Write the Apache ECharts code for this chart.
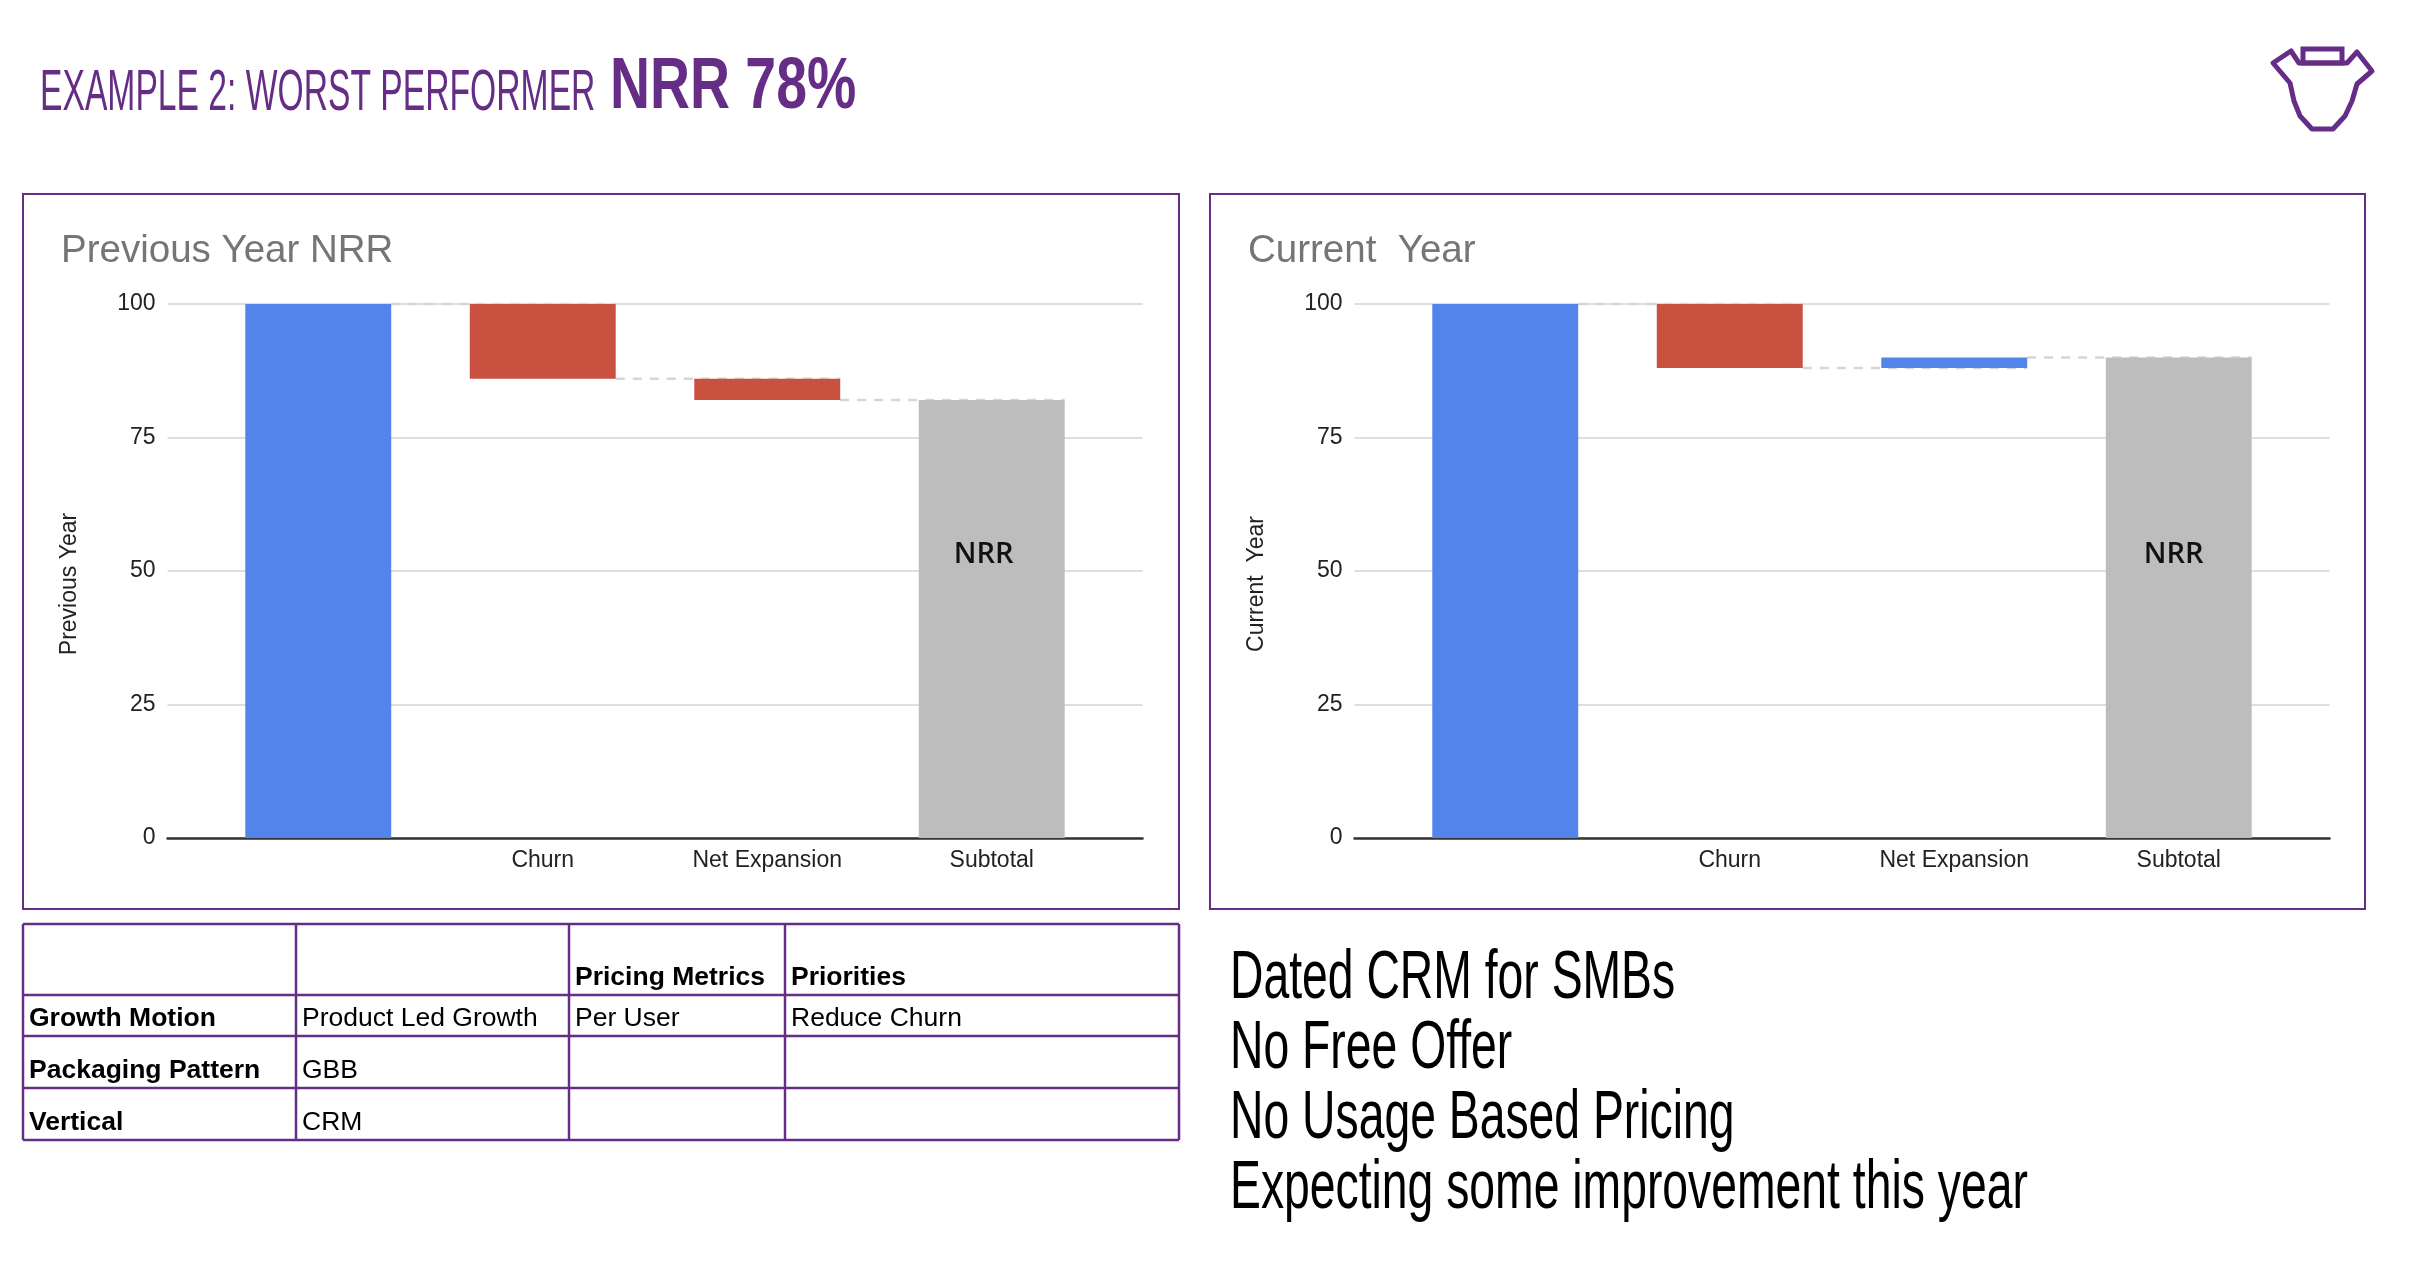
<!DOCTYPE html>
<html>
<head>
<meta charset="utf-8">
<script src="https://cdn.jsdelivr.net/npm/echarts@6/dist/echarts.min.js"></script>
<style>
html,body{margin:0;padding:0;background:#fff;}
#main{width:2418px;height:1266px;}
</style>
</head>
<body>
<div id="main"></div>
<script>
// ---------------- DATA ----------------
const categories = ['', 'Churn', 'Net Expansion', 'Subtotal'];
const kinds = ['start', 'delta', 'delta', 'total'];
const prevValues = [100, -14, -4, 82];
const currValues = [100, -12, 2, 90];
const nrrLabel = 'NRR';
const nrrLabelAt = 53;

const pageTitleLight = 'EXAMPLE 2: WORST PERFORMER';
const pageTitleBold = 'NRR 78%';
const chartTitles = ['Previous Year NRR', 'Current  Year'];
const yAxisNames = ['Previous Year', 'Current  Year'];

const tableHeader = ['', '', 'Pricing Metrics', 'Priorities'];
const tableRows = [
  ['Growth Motion', 'Product Led Growth', 'Per User', 'Reduce Churn'],
  ['Packaging Pattern', 'GBB', '', ''],
  ['Vertical', 'CRM', '', '']
];
const notes = [
  'Dated CRM for SMBs',
  'No Free Offer',
  'No Usage Based Pricing',
  'Expecting some improvement this year'
];

// ---------------- STYLE ----------------
const PURPLE = '#662D86';
const BLUE = '#5384EB';
const RED = '#C95140';
const GRAY = '#BDBDBD';
const FONT = 'Liberation Sans, Arial, sans-serif';
const AXIS_FS = 23;

// ---------------- BUILD ----------------
function waterfall(values) {
  const base = [], size = [], colors = [], levels = [];
  let run = 0;
  values.forEach((v, i) => {
    const k = kinds[i];
    if (k === 'start' || k === 'total') {
      base.push(0); size.push(v); run = v;
      colors.push(k === 'start' ? BLUE : GRAY);
    } else {
      const after = run + v;
      base.push(Math.min(run, after));
      size.push(Math.abs(v));
      colors.push(v < 0 ? RED : BLUE);
      run = after;
    }
    levels.push(run);
  });
  return {base, size, colors, levels};
}

const grids = [], xAxes = [], yAxes = [], series = [];
const BAR_RATIO = 0.65;

function addChart(idx, offsetX, values, yName, labelDx) {
  const w = waterfall(values);
  const top = 304, height = 534;
  grids.push({left: offsetX + 144.5, top: top, width: 975, height: height});
  const gA = grids.length - 1;
  grids.push({left: offsetX + 183, top: top, width: 898, height: height});
  const gB = grids.length - 1;

  xAxes.push({gridIndex: gA, type: 'value', min: 0, max: 1,
    axisLine: {show: true, lineStyle: {color: '#333', width: 2.5}},
    axisTick: {show: false}, axisLabel: {show: false}, splitLine: {show: false}});
  xAxes.push({gridIndex: gB, type: 'category', data: categories,
    axisLine: {show: false}, axisTick: {show: false},
    axisLabel: {show: true, color: '#222', fontSize: AXIS_FS, fontFamily: FONT, margin: 11}});
  const xB = xAxes.length - 1;

  yAxes.push({gridIndex: gA, type: 'value', min: 0, max: 100, interval: 25,
    name: yName, nameLocation: 'middle', nameGap: 86,
    nameTextStyle: {color: '#222', fontSize: AXIS_FS, fontFamily: FONT, padding: [0, 26, 0, 0]},
    axisLine: {show: false}, axisTick: {show: false},
    axisLabel: {color: '#222', fontSize: AXIS_FS, fontFamily: FONT, margin: 12},
    splitLine: {show: true, lineStyle: {color: '#d3d3d3', width: 1.5}}});
  yAxes.push({gridIndex: gB, type: 'value', min: 0, max: 100, interval: 25, show: false,
    splitLine: {show: false}});
  const yB = yAxes.length - 1;

  const conn = [];
  for (let i = 0; i < categories.length - 1; i++) conn.push([i, w.levels[i]]);
  series.push({type: 'custom', xAxisIndex: xB, yAxisIndex: yB, z: 1, silent: true,
    data: conn,
    renderItem: function (params, api) {
      const i = api.value(0), lvl = api.value(1);
      const a = api.coord([i, lvl]), b = api.coord([i + 1, lvl]);
      const half = api.size([1, 0])[0] * BAR_RATIO / 2;
      return {type: 'line',
        shape: {x1: a[0] + half, y1: a[1], x2: b[0] + half, y2: b[1]},
        style: {stroke: '#d6d6d6', lineWidth: 2.5, lineDash: [9, 8]}};
    }});
  series.push({type: 'bar', xAxisIndex: xB, yAxisIndex: yB, stack: 'wf' + idx, z: 2,
    barWidth: (BAR_RATIO * 100) + '%', silent: true,
    itemStyle: {color: 'rgba(0,0,0,0)'}, data: w.base});
  series.push({type: 'bar', xAxisIndex: xB, yAxisIndex: yB, stack: 'wf' + idx, z: 2,
    barWidth: (BAR_RATIO * 100) + '%', silent: true,
    data: w.size.map((v, i) => ({value: v, itemStyle: {color: w.colors[i]}})),
    markPoint: {symbol: 'circle', symbolSize: 1, silent: true,
      itemStyle: {color: 'rgba(0,0,0,0)'},
      label: {show: true, position: 'inside', formatter: nrrLabel, color: '#111',
        fontSize: 29, fontWeight: 600, fontFamily: 'Open Sans, sans-serif', offset: [labelDx, 0]},
      data: [{coord: [categories.length - 1, nrrLabelAt]}]}});
}

addChart(0, 23, prevValues, yAxisNames[0], -8);
addChart(1, 1210, currValues, yAxisNames[1], -5);

// ---------------- GRAPHICS ----------------
const graphic = [];
graphic.push({type: 'text', x: 40, y: 94, scaleX: 0.635, scaleY: 1.1,
  style: {x: 0, y: 0, text: pageTitleLight, fill: PURPLE,
    font: 'normal 53px ' + FONT, textVerticalAlign: 'middle'}});
graphic.push({type: 'text', x: 610, y: 88, scaleX: 0.78, scaleY: 1.03,
  style: {x: 0, y: 0, text: pageTitleBold, fill: PURPLE,
    font: 'bold 71px ' + FONT, textVerticalAlign: 'middle'}});
// logo
graphic.push({type: 'polygon', shape: {points: [
  [2273, 63], [2291, 51], [2299, 63], [2347, 63], [2357, 52], [2372, 71], [2357, 84],
  [2352, 101], [2345, 116], [2333, 129], [2312, 129], [2300, 116], [2294, 101], [2290, 83]]},
  style: {fill: 'none', stroke: PURPLE, lineWidth: 5, lineJoin: 'round'}});
graphic.push({type: 'rect', shape: {x: 2303, y: 49, width: 39, height: 14},
  style: {fill: 'none', stroke: PURPLE, lineWidth: 5}});
[[23, 1156], [1210, 1155]].forEach((b, i) => {
  graphic.push({type: 'rect', z: -1, shape: {x: b[0], y: 194, width: b[1], height: 715},
    style: {fill: 'none', stroke: PURPLE, lineWidth: 2}});
  graphic.push({type: 'text', x: b[0] + 38, y: 251,
    style: {text: chartTitles[i], fill: '#757575', font: 'normal 38.5px ' + FONT,
      textVerticalAlign: 'middle'}});
});
const rowsY = [924, 995, 1036, 1088, 1140];
const colsX = [23, 296, 569, 785, 1179];
rowsY.forEach(y => graphic.push({type: 'line',
  shape: {x1: colsX[0], y1: y, x2: colsX[colsX.length - 1], y2: y},
  style: {stroke: PURPLE, lineWidth: 2.5}}));
colsX.forEach(x => graphic.push({type: 'line',
  shape: {x1: x, y1: rowsY[0], x2: x, y2: rowsY[rowsY.length - 1]},
  style: {stroke: PURPLE, lineWidth: 2.5}}));
const allRows = [tableHeader].concat(tableRows);
allRows.forEach((row, r) => {
  row.forEach((txt, c) => {
    if (!txt) return;
    const bold = (r === 0 || c === 0);
    graphic.push({type: 'text', x: colsX[c] + 6, y: rowsY[r + 1] - 4,
      style: {text: txt, fill: '#000', font: (bold ? 'bold ' : 'normal ') + '26.5px ' + FONT,
        textVerticalAlign: 'bottom'}});
  });
});
notes.forEach((t, i) => {
  graphic.push({type: 'text', x: 1230, y: 979 + i * 70, scaleX: 0.735, scaleY: 1.1,
    style: {x: 0, y: 0, text: t, fill: '#000', font: 'normal 63px ' + FONT,
      textVerticalAlign: 'middle'}});
});

const chart = echarts.init(document.getElementById('main'), null, {renderer: 'canvas'});
chart.setOption({
  backgroundColor: '#fff',
  animation: false,
  grid: grids,
  xAxis: xAxes,
  yAxis: yAxes,
  series: series,
  graphic: graphic
});
</script>
</body>
</html>
